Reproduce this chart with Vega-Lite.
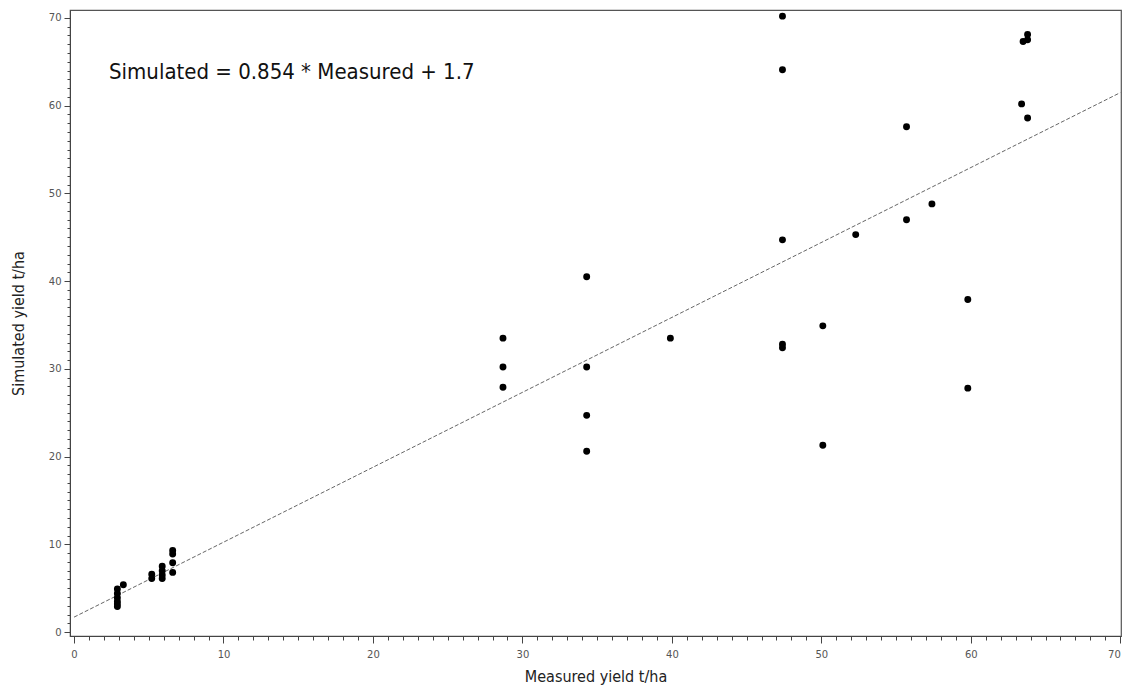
{
  "$schema": "https://vega.github.io/schema/vega-lite/v6.json",
  "width": 1051,
  "height": 626,
  "autosize": {"type": "none"},
  "padding": {"left": 70, "top": 10, "right": 3, "bottom": 57},
  "background": "white",
  "config": {
    "view": {"stroke": "#555", "strokeWidth": 1.2},
    "axis": {
      "domainColor": "#444",
      "tickColor": "#444",
      "labelColor": "#555",
      "labelFont": "DejaVu Sans",
      "labelFontSize": 10,
      "titleFont": "DejaVu Sans Condensed, Roboto, sans-serif",
      "titleFontSize": 16,
      "titleFontWeight": "normal",
      "titleColor": "#222",
      "grid": false,
      "labelOverlap": false
    }
  },
  "datasets": {
    "pts": [
      {"measured": 2.9, "simulated": 4.9},
      {"measured": 2.9, "simulated": 4.4},
      {"measured": 2.9, "simulated": 3.9},
      {"measured": 2.9, "simulated": 3.5},
      {"measured": 2.9, "simulated": 3.2},
      {"measured": 2.9, "simulated": 2.9},
      {"measured": 3.3, "simulated": 5.4},
      {"measured": 5.2, "simulated": 6.6},
      {"measured": 5.2, "simulated": 6.1},
      {"measured": 5.9, "simulated": 7.5},
      {"measured": 5.9, "simulated": 7.0},
      {"measured": 5.9, "simulated": 6.5},
      {"measured": 5.9, "simulated": 6.1},
      {"measured": 6.6, "simulated": 9.3},
      {"measured": 6.6, "simulated": 8.9},
      {"measured": 6.6, "simulated": 7.9},
      {"measured": 6.6, "simulated": 6.8},
      {"measured": 28.7, "simulated": 33.5},
      {"measured": 28.7, "simulated": 30.2},
      {"measured": 28.7, "simulated": 27.9},
      {"measured": 34.3, "simulated": 40.5},
      {"measured": 34.3, "simulated": 30.2},
      {"measured": 34.3, "simulated": 24.7},
      {"measured": 34.3, "simulated": 20.6},
      {"measured": 39.9, "simulated": 33.5},
      {"measured": 47.4, "simulated": 70.2},
      {"measured": 47.4, "simulated": 64.1},
      {"measured": 47.4, "simulated": 44.7},
      {"measured": 47.4, "simulated": 32.8},
      {"measured": 47.4, "simulated": 32.4},
      {"measured": 50.1, "simulated": 34.9},
      {"measured": 50.1, "simulated": 21.3},
      {"measured": 52.3, "simulated": 45.3},
      {"measured": 55.7, "simulated": 57.6},
      {"measured": 55.7, "simulated": 47.0},
      {"measured": 57.4, "simulated": 48.8},
      {"measured": 59.8, "simulated": 37.9},
      {"measured": 59.8, "simulated": 27.8},
      {"measured": 63.4, "simulated": 60.2},
      {"measured": 63.8, "simulated": 58.6},
      {"measured": 63.5, "simulated": 67.3},
      {"measured": 63.8, "simulated": 67.5},
      {"measured": 63.8, "simulated": 68.1}
    ],
    "fit": [
      {"measured": 0, "simulated": 1.7},
      {"measured": 70, "simulated": 61.48}
    ],
    "eq": [
      {"measured": 2.34, "simulated": 63.8, "label": "Simulated = 0.854 * Measured + 1.7"}
    ]
  },
  "encoding": {
    "x": {
      "field": "measured",
      "type": "quantitative",
      "scale": {"domain": [-0.27, 70.05], "nice": false, "zero": false},
      "axis": {
        "title": "Measured yield t/ha",
        "values": [0,1,2,3,4,5,6,7,8,9,10,11,12,13,14,15,16,17,18,19,20,21,22,23,24,25,26,27,28,29,30,31,32,33,34,35,36,37,38,39,40,41,42,43,44,45,46,47,48,49,50,51,52,53,54,55,56,57,58,59,60,61,62,63,64,65,66,67,68,69,70],
        "labelExpr": "datum.value % 10 === 0 ? datum.label : ''",
        "tickSize": {"condition": {"test": "datum.value % 10 === 0", "value": 7}, "value": 4},
        "labelPadding": 6,
        "titlePadding": 9
      }
    },
    "y": {
      "field": "simulated",
      "type": "quantitative",
      "scale": {"domain": [-0.45, 70.9], "nice": false, "zero": false},
      "axis": {
        "title": "Simulated yield t/ha",
        "values": [0,1,2,3,4,5,6,7,8,9,10,11,12,13,14,15,16,17,18,19,20,21,22,23,24,25,26,27,28,29,30,31,32,33,34,35,36,37,38,39,40,41,42,43,44,45,46,47,48,49,50,51,52,53,54,55,56,57,58,59,60,61,62,63,64,65,66,67,68,69,70],
        "labelExpr": "datum.value % 10 === 0 ? datum.label : ''",
        "tickSize": {"condition": {"test": "datum.value % 10 === 0", "value": 6}, "value": 3},
        "labelPadding": 3,
        "titlePadding": 22
      }
    }
  },
  "layer": [
    {
      "data": {"name": "fit"},
      "mark": {"type": "line", "color": "#666", "strokeWidth": 1, "strokeDash": [4, 2], "clip": true}
    },
    {
      "data": {"name": "pts"},
      "mark": {"type": "circle", "color": "black", "opacity": 1, "size": 48}
    },
    {
      "data": {"name": "eq"},
      "mark": {"type": "text", "align": "left", "baseline": "middle", "font": "DejaVu Sans Condensed, Roboto, sans-serif", "fontSize": 22, "color": "#111"},
      "encoding": {"text": {"field": "label"}}
    }
  ]
}
